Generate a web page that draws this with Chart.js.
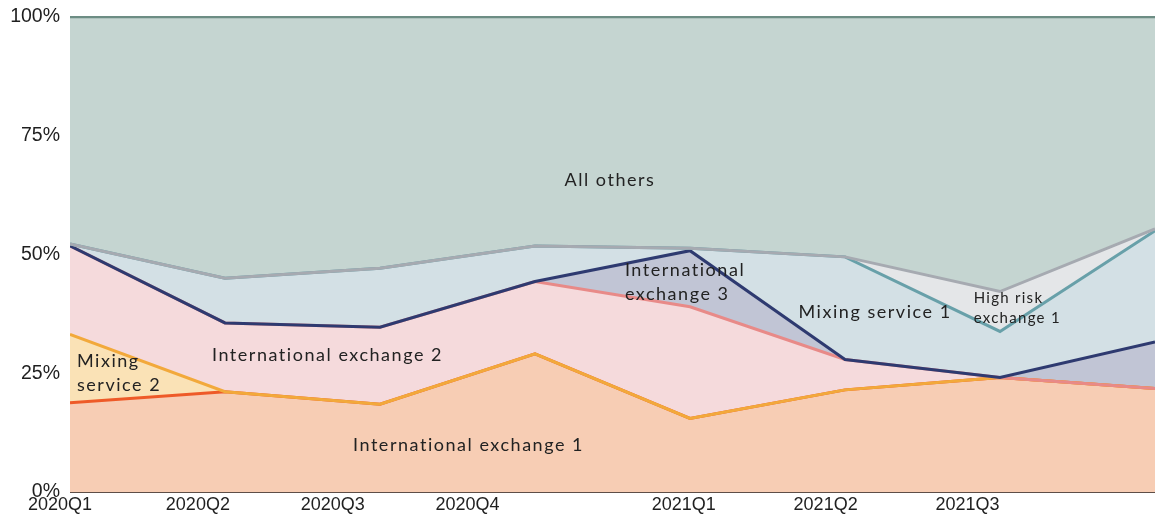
<!DOCTYPE html>
<html>
<head>
<meta charset="utf-8">
<script src="https://cdn.jsdelivr.net/npm/chart.js@4.4.1/dist/chart.umd.min.js"></script>
<style>
html,body{margin:0;padding:0;background:#ffffff;}
#wrap{width:1155px;height:526px;position:relative;}
</style>
</head>
<body>
<div id="wrap"><canvas id="c" width="1155" height="526"></canvas></div>
<script>
// ---- data (shares in %, per quarter) ----
const categories = ['2020Q1','2020Q2','2020Q3','2020Q4','2021Q1','2021Q2','2021Q3','2021Q4'];
const tickLabels = ['2020Q1','2020Q2','2020Q3','2020Q4','2021Q1','2021Q2','2021Q3'];
const intlExchange1 = [18.8, 21.1, 18.5, 29.1, 15.5, 21.5, 24.1, 21.8];
const mixingService2 = [14.4, 0, 0, 0, 0, 0, 0, 0];
const intlExchange2 = [18.6, 14.5, 16.2, 15.2, 23.5, 6.4, 0, 0];
const intlExchange3 = [0, 0, 0, 0, 11.8, 0, 0, 9.8];
const mixingService1 = [0.4, 9.4, 12.4, 7.5, 0.5, 21.6, 9.7, 23.4];
const highRiskExchange1 = [0, 0, 0, 0, 0, 0, 8.4, 0.4];
const allOthers = [47.8, 55.0, 52.9, 48.2, 48.7, 50.5, 57.8, 44.6];

// layout of the quarter labels along the axis (in quarter units, as in the source image)
const tickLabelPos = [-0.065, 0.825, 1.695, 2.565, 3.96, 4.875, 5.79];

// series definitions bottom -> top
const seriesBottomUp = [
  {name:'International exchange 1', values:intlExchange1, fill:'#f7cdb4', line:'#ee5a28'},
  {name:'Mixing service 2', values:mixingService2, fill:'#fae2b6', line:'#f2a93b'},
  {name:'International exchange 2', values:intlExchange2, fill:'#f5dadc', line:'#e88a88'},
  {name:'International exchange 3', values:intlExchange3, fill:'#c1c5d5', line:'#2e3a70'},
  {name:'Mixing service 1', values:mixingService1, fill:'#d3e0e5', line:'#68a0a9'},
  {name:'High risk exchange 1', values:highRiskExchange1, fill:'#e4e6e8', line:'#a6aab1'},
  {name:'All others', values:allOthers, fill:'#c5d5d1', line:'#6d8d84'}
];

// cumulative tops
const running = categories.map(() => 0);
const built = seriesBottomUp.map((s) => {
  const tops = s.values.map((v, i) => { running[i] += v; return running[i]; });
  return {s, tops};
});
// datasets listed top -> bottom so upper lines are drawn last (on top)
const datasets = built.slice().reverse().map((b, idx, arr) => ({
  label: b.s.name,
  data: b.tops.map((y, i) => ({x: i, y: y})),
  backgroundColor: b.s.fill,
  borderColor: b.s.line,
  borderWidth: b.s.name === 'All others' ? 2.5 : 3,
  pointRadius: 0,
  pointHoverRadius: 0,
  tension: 0,
  fill: idx === arr.length - 1 ? 'origin' : '+1'
}));

// in-chart labels (data units: x in quarters, y in %)
const annotations = [
  {lines:['All others'], x:3.19, y:65.7, size:18},
  {lines:['International','exchange 3'], x:3.58, y:44.1, size:18},
  {lines:['Mixing service 1'], x:4.70, y:37.9, size:18},
  {lines:['High risk','exchange 1'], x:5.83, y:38.7, size:15},
  {lines:['Mixing','service 2'], x:0.045, y:25.05, size:18},
  {lines:['International exchange 2'], x:0.916, y:28.8, size:18},
  {lines:['International exchange 1'], x:1.826, y:9.9, size:18}
];

const labelPlugin = {
  id: 'areaLabels',
  afterDraw(chart) {
    const ctx = chart.ctx;
    const xs = chart.scales.x, ys = chart.scales.y;
    ctx.save();
    ctx.fillStyle = '#222222';
    ctx.textAlign = 'left';
    ctx.textBaseline = 'middle';
    annotations.forEach(a => {
      ctx.font = a.size + 'px Lato';
      try { ctx.letterSpacing = (a.size * 0.085).toFixed(2) + 'px'; } catch(e) {}
      const lh = a.size * 1.33;
      const px = xs.getPixelForValue(a.x);
      const py = ys.getPixelForValue(a.y);
      const n = a.lines.length;
      a.lines.forEach((t, k) => {
        ctx.fillText(t, px, py + (k - (n - 1) / 2) * lh);
      });
    });
    ctx.restore();
  }
};

new Chart(document.getElementById('c'), {
  type: 'line',
  data: { datasets },
  plugins: [labelPlugin],
  options: {
    responsive: false,
    animation: false,
    events: [],
    layout: { padding: { left: 8, top: 17, right: 0, bottom: 0 } },
    plugins: {
      legend: { display: false },
      tooltip: { enabled: false },
      filler: { drawTime: 'beforeDatasetsDraw' }
    },
    scales: {
      x: {
        type: 'linear',
        min: 0,
        max: 7,
        grid: { display: false, drawTicks: false },
        border: { display: false },
        afterBuildTicks: (scale) => { scale.ticks = tickLabelPos.map(v => ({value: v})); },
        afterFit: (scale) => { scale.height = 34; scale.paddingLeft = 0; scale.paddingRight = 0; },
        ticks: {
          autoSkip: false,
          maxRotation: 0,
          padding: 2,
          color: '#1f1f1f',
          font: { family: '"Liberation Sans", Arial, sans-serif', size: 18 },
          callback: (v, i) => tickLabels[i]
        }
      },
      y: {
        min: 0,
        max: 100,
        z: 1,
        border: { display: false },
        afterFit: (scale) => { scale.width = 62; scale.paddingTop = 0; scale.paddingBottom = 0; },
        grid: {
          drawTicks: false,
          lineWidth: (c) => (c.tick && (c.tick.value === 0 || c.tick.value === 100)) ? 2 : 1.5,
          color: (c) => {
            if (!c.tick) return 'rgba(90,90,90,0.25)';
            if (c.tick.value === 0) return '#5e4e47';
            if (c.tick.value === 100) return '#6d8d84';
            return 'rgba(90,90,90,0.25)';
          }
        },
        ticks: {
          stepSize: 25,
          padding: 10,
          color: '#1f1f1f',
          font: { family: '"Liberation Sans", Arial, sans-serif', size: 19.5 },
          callback: (v) => v + '%'
        }
      }
    }
  }
});
</script>
</body>
</html>
